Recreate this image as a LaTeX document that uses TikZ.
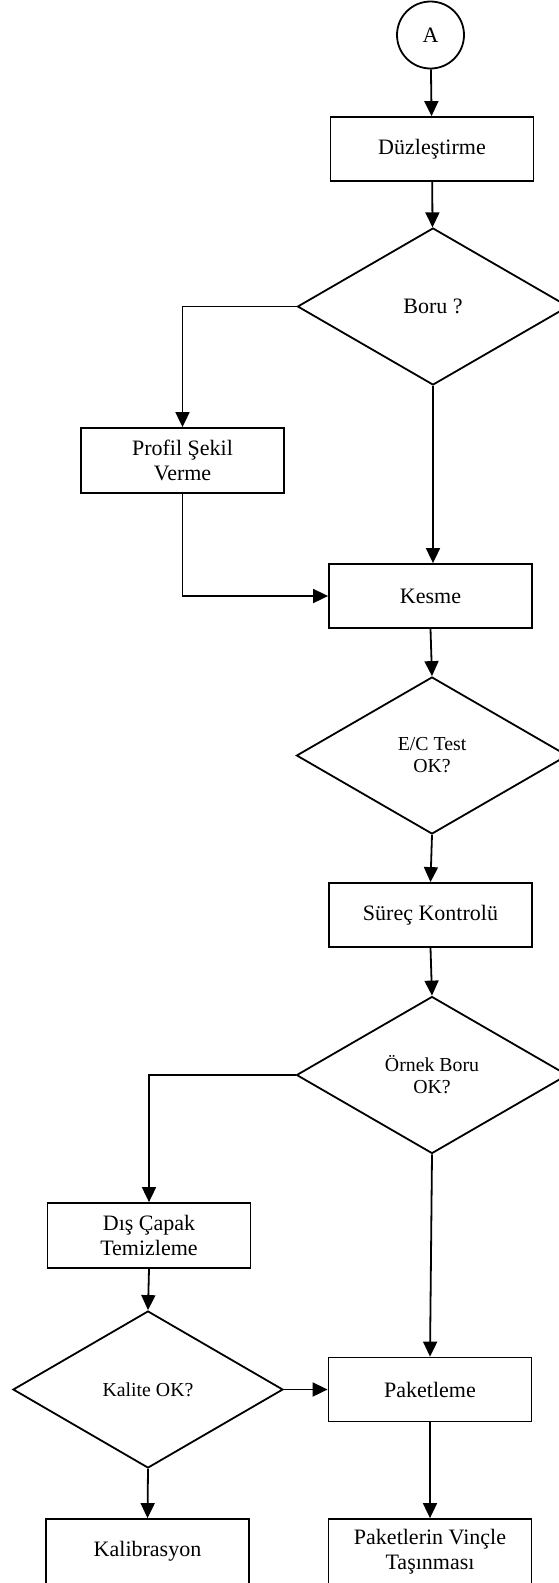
\documentclass[tikz,border=0pt]{standalone}
\usepackage{fontspec}
\setmainfont{Liberation Serif}
\usetikzlibrary{shapes.geometric,arrows.meta}
\begin{document}
\begin{tikzpicture}[x=1pt,y=-1pt,
  every node/.style={font=\fontsize{22}{25}\selectfont},
  box/.style={draw, line width=1.8pt, minimum width=203pt, minimum height=64pt, inner sep=0pt, align=center},
  dec/.style={draw, diamond, line width=1.8pt, shape aspect=1.72, minimum width=271pt, minimum height=157pt, inner sep=0pt, align=center, font=\fontsize{19.8}{22}\selectfont},
  conn/.style={line width=1.8pt, -{Triangle[length=15pt,width=14pt]}}]
\useasboundingbox (0,0) rectangle (559,1583);
\clip (0,0) rectangle (559,1583);
\node[circle, draw, line width=1.8pt, minimum size=67pt, inner sep=0pt] (A) at (430.5,35) {A};
\node[box] (duz) at (432,149) {Düzleştirme};
\node[dec, font=\fontsize{22}{25}\selectfont] (boru) at (433,306.5) {Boru ?};
\node[box, minimum height=65pt] (profil) at (182.5,460.5) {Profil Şekil\\Verme};
\node[box] (kesme) at (430.5,596) {Kesme};
\node[dec] (ec) at (432,755.5) {E/C Test\\OK?};
\node[box] (surec) at (430.5,915) {Süreç Kontrolü};
\node[dec] (ornek) at (432,1075) {Örnek Boru\\OK?};
\node[box, minimum height=65pt] (dis) at (149,1235.5) {Dış Çapak\\Temizleme};
\node[dec, minimum width=270pt] (kalite) at (148,1389.5) {Kalite OK?};
\node[box] (paket) at (430,1389.5) {Paketleme};
\node[box, minimum height=65pt] (kalib) at (147.5,1551.5) {Kalibrasyon};
\node[box, minimum height=65pt] (tasin) at (430,1551.5) {Paketlerin Vinçle\\Taşınması};
\draw[conn] (A) -- (duz);
\draw[conn] (duz) -- (boru);
\draw[conn] (boru.west) -| (profil.north);
\draw[conn] (profil.south) |- (kesme.west);
\draw[conn] (boru.south) -- (boru.south |- kesme.north);
\draw[conn] (kesme.south) -- (ec.north);
\draw[conn] (ec.south) -- (surec.north);
\draw[conn] (surec.south) -- (ornek.north);
\draw[conn] (ornek.west) -| (dis.north);
\draw[conn] (dis.south) -- (kalite.north);
\draw[conn] (kalite.east) -- (paket.west);
\draw[conn] (kalite.south) -- (kalib.north);
\draw[conn] (ornek.south) -- (paket.north);
\draw[conn] (paket.south) -- (tasin.north);
\end{tikzpicture}
\end{document}
